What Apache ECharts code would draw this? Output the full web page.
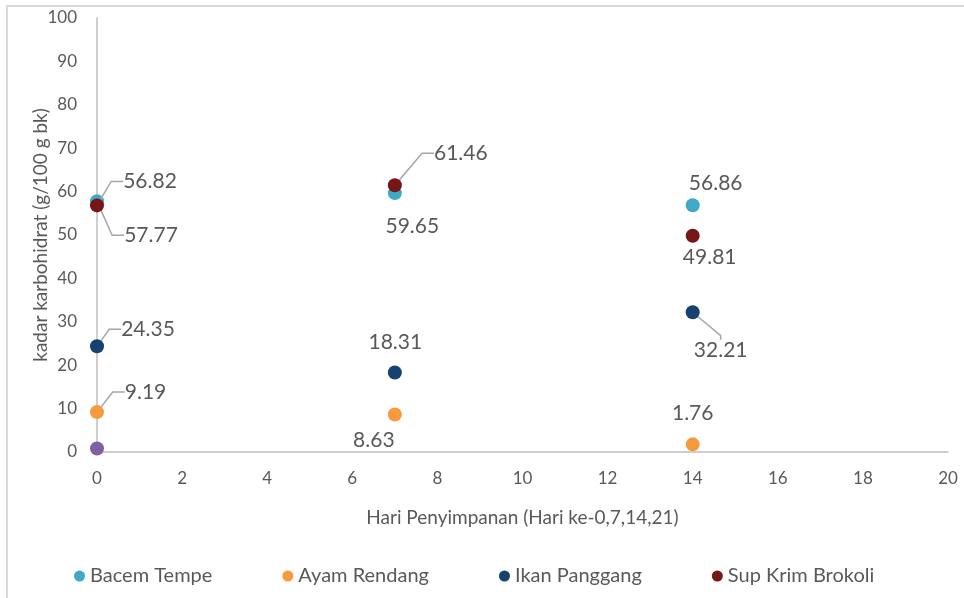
<!DOCTYPE html>
<html>
<head>
<meta charset="utf-8">
<style>
  html, body { margin: 0; padding: 0; background: #ffffff; }
  #chart { width: 964px; height: 598px; }
</style>
<script src="https://cdn.jsdelivr.net/npm/echarts@6/dist/echarts.min.js"></script>
</head>
<body>
<div id="chart"></div>
<script>
// Storage days (x) for each measurement
const days = [0, 7, 14];

// Carbohydrate content (g/100 g dry basis) per menu item
const bacemTempe = [57.77, 59.65, 56.86];
const ayamRendang = [9.19, 8.63, 1.76];
const ikanPanggang = [24.35, 18.31, 32.21];
const supKrimBrokoli = [56.82, 61.46, 49.81];
const extraPoint = [[0, 0.8]];

const seriesNames = ['Bacem Tempe', 'Ayam Rendang', 'Ikan Panggang', 'Sup Krim Brokoli'];
const seriesValues = [bacemTempe, ayamRendang, ikanPanggang, supKrimBrokoli];
const seriesColors = ['#3FA9C7', '#F79A3E', '#17416F', '#771616'];

// Axis ticks
const xTicks = { min: 0, max: 20, interval: 2 };
const yTicks = { min: 0, max: 100, interval: 10 };

// Label offsets from each point centre (px), and leader line kind
const labelShift = [
  [[54, 34], [17.5, 33], [23, -22]],
  [[48.5, -20], [-21, 25.5], [0, -31]],
  [[51, -17], [0.5, -30], [28, 38]],
  [[53, -24], [66, -32], [17, 21]]
];
const leaderKind = [
  ['elbow', null, null],
  ['elbow', null, null],
  ['elbow', null, 'straight'],
  ['elbow', 'elbow', null]
];

const textColor = '#595959';
const fontFamily = 'Lato, "Open Sans", "Noto Sans", sans-serif';

function makeLayout(si) {
  return function (p) {
    const s = labelShift[si][p.dataIndex];
    return { dx: s[0], dy: s[1] };
  };
}

const series = seriesNames.map(function (name, si) {
  return {
    name: name,
    type: 'scatter',
    symbol: 'circle',
    symbolSize: 14,
    itemStyle: { color: seriesColors[si], opacity: 1 },
    z: 2 + si,
    label: {
      show: true,
      position: 'inside',
      color: textColor,
      fontFamily: fontFamily,
      fontSize: 21,
      padding: [0, 9],
      formatter: function (p) { return p.value[1].toFixed(2); }
    },
    labelLine: {
      show: false,
      length2: 12,
      lineStyle: { color: '#A6A6A6', width: 1.5 }
    },
    labelLayout: makeLayout(si),
    emphasis: { disabled: true },
    data: days.map(function (d, i) {
      const kind = leaderKind[si][i];
      const item = {
        value: [d, seriesValues[si][i]],
        labelLine: { show: !!kind, length2: kind === 'straight' ? 4 : 12 }
      };
      if (kind === 'straight') {
        item.label = { padding: [0, 0] };
      }
      return item;
    })
  };
});

series.push({
  name: 'Lainnya',
  type: 'scatter',
  symbol: 'circle',
  symbolSize: 14,
  itemStyle: { color: '#7F60A3', opacity: 1 },
  z: 1,
  emphasis: { disabled: true },
  data: extraPoint
});

const option = {
  animation: false,
  backgroundColor: '#ffffff',
  textStyle: { fontFamily: fontFamily },
  graphic: [{
    type: 'rect',
    shape: { x: 7, y: 6, width: 1200, height: 1200 },
    style: { fill: 'none', stroke: '#D9D9D9', lineWidth: 2 },
    silent: true,
    z: -1
  }],
  grid: {
    left: 97, right: 16, top: 18, bottom: 146,
    containLabel: false,
    outerBoundsMode: 'none'
  },
  legend: {
    data: seriesNames,
    left: 69,
    top: 561,
    icon: 'circle',
    itemWidth: 11,
    itemHeight: 11,
    itemGap: 70,
    textStyle: { color: textColor, fontSize: 20, fontFamily: fontFamily }
  },
  xAxis: {
    type: 'value',
    min: xTicks.min, max: xTicks.max, interval: xTicks.interval,
    name: 'Hari Penyimpanan (Hari ke-0,7,14,21)',
    nameLocation: 'middle',
    nameGap: 56,
    nameMoveOverlap: false,
    nameTextStyle: { color: textColor, fontSize: 19, fontFamily: fontFamily },
    axisLine: { show: true, onZero: true, lineStyle: { color: '#BFBFBF', width: 1.5 } },
    axisTick: { show: false },
    splitLine: { show: false },
    axisLabel: { color: textColor, fontSize: 17, margin: 18, fontFamily: fontFamily }
  },
  yAxis: {
    type: 'value',
    min: yTicks.min, max: yTicks.max, interval: yTicks.interval,
    name: 'kadar karbohidrat (g/100 g bk)',
    nameLocation: 'middle',
    nameGap: 47,
    nameMoveOverlap: false,
    nameTextStyle: { color: textColor, fontSize: 19, fontFamily: fontFamily },
    axisLine: { show: true, onZero: true, lineStyle: { color: '#BFBFBF', width: 1.5 } },
    axisTick: { show: false },
    splitLine: { show: false },
    axisLabel: { color: textColor, fontSize: 17, margin: 20, fontFamily: fontFamily }
  },
  series: series
};

const chart = echarts.init(document.getElementById('chart'), null, { renderer: 'canvas' });
chart.setOption(option);
</script>
</body>
</html>
